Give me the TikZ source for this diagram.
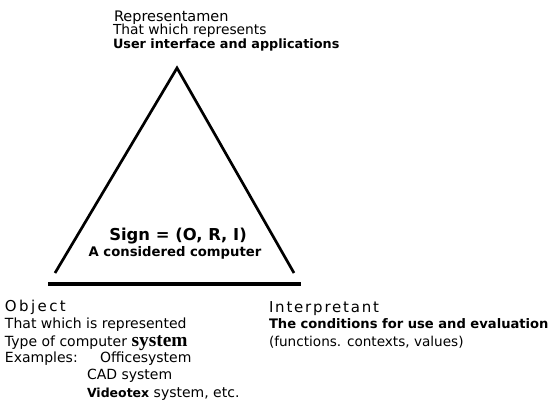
\documentclass[tikz,border=0pt]{standalone}
\usepackage{fontspec}
\setmainfont{DejaVu Sans}
\newfontfamily\titlefont{DejaVu Sans}
\newfontfamily\serifbold{Liberation Serif}
\begin{document}
\begin{tikzpicture}[x=1pt,y=-1pt,
  txt/.style={anchor=base west,inner sep=0pt,outer sep=0pt,font=\fontsize{14}{17}\selectfont},
  ttl/.style={anchor=base west,inner sep=0pt,outer sep=0pt},
  bld/.style={anchor=base west,inner sep=0pt,outer sep=0pt,font=\fontsize{13}{16}\selectfont\bfseries},
  side/.style={line width=2.7pt,line join=miter,line cap=butt},
  base/.style={line width=4pt}]
\useasboundingbox (0,0) rectangle (548,400);
% triangle
\coordinate (apex) at (177,68);
\coordinate (lft) at (55,273);
\coordinate (rgt) at (294,273);
\coordinate (b1) at (48,284);
\coordinate (b2) at (301,284);
\draw[side] (lft) -- (apex) -- (rgt);
\draw[base] (b1) -- (b2);
% Representamen
\node[ttl,font=\fontsize{14.5}{17}\selectfont] (rep) at (114,21) {Representamen};
\node[txt,font=\fontsize{13.8}{17}\selectfont] (rep1) at (113,34) {That which represents};
\node[bld,font=\fontsize{12.8}{16}\selectfont\bfseries] (rep2) at (113,48) {User interface and applications};
% Sign
\node[anchor=base,inner sep=0pt,font=\fontsize{16.4}{19}\selectfont\bfseries] (sign) at (178,240) {Sign = (O, R, I)};
\node[anchor=base,inner sep=0pt,font=\fontsize{13.2}{16}\selectfont\bfseries] (sign2) at (175,256) {A considered computer};
% Object
\node[ttl,font=\fontsize{15}{18}\selectfont\addfontfeature{LetterSpace=16}] (obj) at (5,311) {Object};
\node[txt] (obj1) at (5,328) {That which is represented};
\node[txt] (obj2) at (5,346) {Type of computer \textbf{\serifbold\fontsize{19.4}{20}\selectfont system}};
\node[txt] (obj3) at (5,362) {Examples:};
\node[txt] (obj4) at (100,362) {Officesystem};
\node[txt] (obj5) at (87,379) {CAD system};
\node[txt] (obj6) at (87,397) {{\bfseries\fontsize{12.5}{15}\selectfont Videotex} system, etc.};
% Interpretant
\node[ttl,font=\fontsize{15}{18}\selectfont\addfontfeature{LetterSpace=12}] (int) at (269,312) {Interpretant};
\node[bld,font=\fontsize{13.1}{16}\selectfont\bfseries] (int1) at (269,328) {The conditions for use and evaluation};
\node[txt,font=\fontsize{13.6}{17}\selectfont] (int2) at (269,346) {(functions. contexts, values)};
\end{tikzpicture}
\end{document}
